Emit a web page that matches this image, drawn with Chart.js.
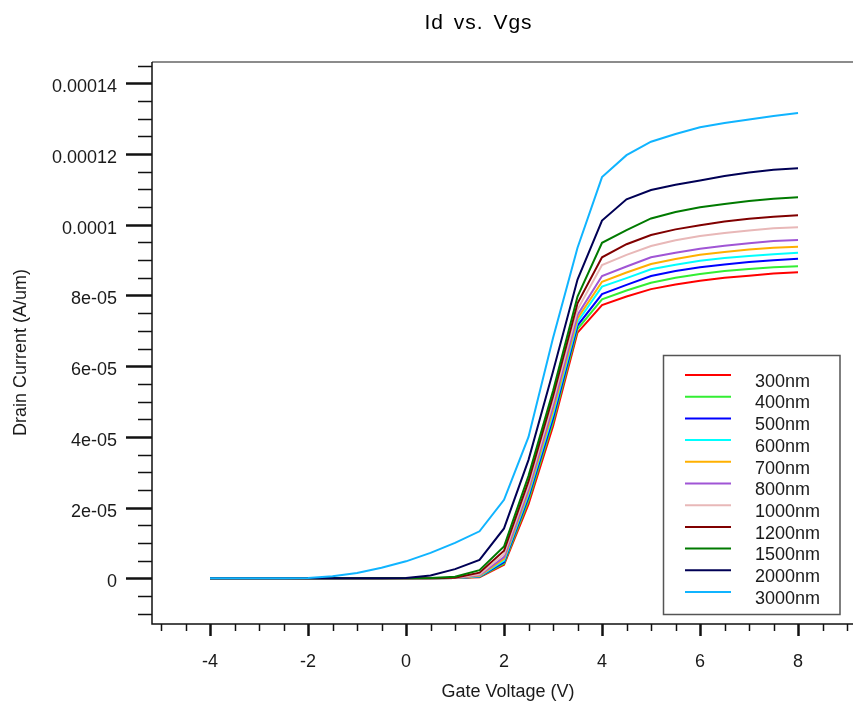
<!DOCTYPE html>
<html><head><meta charset="utf-8">
<script src="https://cdn.jsdelivr.net/npm/chart.js@4.4.1/dist/chart.umd.min.js"></script>
<style>html,body{margin:0;padding:0;background:#fff;overflow:hidden}</style>
</head><body>
<canvas id="c" width="853" height="705"></canvas>
<script>
// ---- data (Gate voltage in V, drain current in A/um) ----
const vgs = [-4,-3.5,-3,-2.5,-2,-1.5,-1,-0.5,0,0.5,1,1.5,2,2.5,3,3.5,4,4.5,5,5.5,6,6.5,7,7.5,8];
const seriesLabels = ['300nm','400nm','500nm','600nm','700nm','800nm','1000nm','1200nm','1500nm','2000nm','3000nm'];
const seriesColors = ['#ff0000','#33ee33','#0000ff','#00ffff','#ffb000','#a055d5','#e8b8b8','#800000','#007a00','#000055','#10b4ff'];
const id300  = [0,0,0,0,0,0,0,0,0,0, 5e-8, 3e-7, 3.8e-6, 2.1e-5, 4.3e-5, 6.95e-5, 7.73e-5, 7.97e-5, 8.18e-5, 8.31e-5, 8.42e-5, 8.5e-5, 8.56e-5, 8.62e-5, 8.66e-5];
const id400  = [0,0,0,0,0,0,0,0,0,0, 5e-8, 4e-7, 4.2e-6, 2.2e-5, 4.42e-5, 7.05e-5, 7.89e-5, 8.14e-5, 8.36e-5, 8.5e-5, 8.61e-5, 8.69e-5, 8.75e-5, 8.8e-5, 8.83e-5];
const id500  = [0,0,0,0,0,0,0,0,0,0, 6e-8, 5e-7, 4.6e-6, 2.3e-5, 4.53e-5, 7.15e-5, 8.04e-5, 8.3e-5, 8.55e-5, 8.69e-5, 8.8e-5, 8.88e-5, 8.95e-5, 9.0e-5, 9.04e-5];
const id600  = [0,0,0,0,0,0,0,0,0,0, 7e-8, 6e-7, 5.0e-6, 2.38e-5, 4.64e-5, 7.25e-5, 8.25e-5, 8.49e-5, 8.74e-5, 8.87e-5, 8.98e-5, 9.06e-5, 9.12e-5, 9.17e-5, 9.21e-5];
const id700  = [0,0,0,0,0,0,0,0,0,0, 8e-8, 7e-7, 5.5e-6, 2.45e-5, 4.75e-5, 7.35e-5, 8.39e-5, 8.65e-5, 8.89e-5, 9.03e-5, 9.15e-5, 9.23e-5, 9.3e-5, 9.35e-5, 9.38e-5];
const id800  = [0,0,0,0,0,0,0,0,0,0, 1e-7, 9e-7, 6.0e-6, 2.52e-5, 4.86e-5, 7.45e-5, 8.55e-5, 8.82e-5, 9.08e-5, 9.21e-5, 9.32e-5, 9.41e-5, 9.48e-5, 9.54e-5, 9.57e-5];
const id1000 = [0,0,0,0,0,0,0,0,0,0, 1.2e-7, 1.1e-6, 6.8e-6, 2.62e-5, 5.0e-5, 7.6e-5, 8.86e-5, 9.15e-5, 9.4e-5, 9.56e-5, 9.68e-5, 9.77e-5, 9.84e-5, 9.9e-5, 9.93e-5];
const id1200 = [0,0,0,0,0,0,0,0,0,0, 1.5e-7, 1.6e-6, 7.8e-6, 2.75e-5, 5.15e-5, 7.78e-5, 9.08e-5, 9.45e-5, 9.71e-5, 9.87e-5, 9.99e-5, 1.009e-4, 1.017e-4, 1.023e-4, 1.027e-4];
const id1500 = [0,0,0,0,0,0,0,0,0, 5e-8, 4.5e-7, 2.3e-6, 9.0e-6, 2.9e-5, 5.3e-5, 7.97e-5, 9.49e-5, 9.85e-5, 1.018e-4, 1.036e-4, 1.0496e-4, 1.059e-4, 1.067e-4, 1.074e-4, 1.078e-4];
const id2000 = [0,0,0,0,0,0,0,0, 1e-7, 8e-7, 2.6e-6, 5.2e-6, 1.41e-5, 3.35e-5, 5.85e-5, 8.45e-5, 1.012e-4, 1.072e-4, 1.0985e-4, 1.113e-4, 1.125e-4, 1.138e-4, 1.148e-4, 1.156e-4, 1.16e-4];
const id3000 = [0,0,0,0, 1e-7, 6e-7, 1.5e-6, 3.0e-6, 4.8e-6, 7.2e-6, 1.0e-5, 1.33e-5, 2.22e-5, 4.0e-5, 6.8e-5, 9.35e-5, 1.135e-4, 1.197e-4, 1.235e-4, 1.257e-4, 1.276e-4, 1.288e-4, 1.298e-4, 1.308e-4, 1.316e-4];
const seriesValues = [id300,id400,id500,id600,id700,id800,id1000,id1200,id1500,id2000,id3000];

const xTickValues = [-4,-2,0,2,4,6,8];
const xTickLabels = ['-4','-2','0','2','4','6','8'];
const yTickValues = [0,2e-5,4e-5,6e-5,8e-5,1e-4,1.2e-4,1.4e-4];
const yTickLabels = ['0','2e-05','4e-05','6e-05','8e-05','0.0001','0.00012','0.00014'];

const titleText = 'Id vs. Vgs';
const xTitle = 'Gate Voltage (V)';
const yTitle = 'Drain Current (A/um)';

// ---- styling ----
const FONT = '"Liberation Sans", Arial, sans-serif';
const TXT = '#1a1a1a';

const datasets = seriesValues.map((vals, i) => ({
  label: seriesLabels[i],
  data: vgs.map((x, j) => ({x: x, y: vals[j]})),
  borderColor: seriesColors[i],
  backgroundColor: seriesColors[i],
  borderWidth: 2,
  pointRadius: 0,
  tension: 0,
  fill: false,
  order: seriesValues.length - i
}));

const decor = {
  id: 'decor',
  afterDatasetsDraw(chart) {
    const ctx = chart.ctx, a = chart.chartArea;
    const xs = chart.scales.x, ys = chart.scales.y;
    ctx.save();
    // frame
    ctx.lineCap = 'butt';
    ctx.strokeStyle = '#666';
    ctx.lineWidth = 1.5;
    ctx.beginPath(); ctx.moveTo(a.left, a.top); ctx.lineTo(a.right, a.top); ctx.stroke();
    ctx.strokeStyle = '#111';
    ctx.beginPath(); ctx.moveTo(a.left, a.top); ctx.lineTo(a.left, a.bottom); ctx.lineTo(a.right, a.bottom); ctx.stroke();
    // y ticks
    for (let k = -2; k <= 29; k++) {
      const v = k * 5e-6;
      const py = Math.round(ys.getPixelForValue(v)) + 0.5;
      if (py < a.top + 1 || py > a.bottom - 1) continue;
      const major = (k % 4 === 0);
      ctx.lineWidth = major ? 2.5 : 1.5;
      ctx.beginPath(); ctx.moveTo(a.left - (major ? 26 : 14), py); ctx.lineTo(a.left, py); ctx.stroke();
    }
    // x ticks
    for (let k = -10; k <= 18; k++) {
      const v = k * 0.5;
      const px = Math.round(xs.getPixelForValue(v)) + 0.5;
      if (px < a.left + 1 || px > a.right) continue;
      const major = (k % 4 === 0);
      ctx.lineWidth = major ? 2.5 : 1.5;
      ctx.beginPath(); ctx.moveTo(px, a.bottom); ctx.lineTo(px, a.bottom + (major ? 12 : 7)); ctx.stroke();
    }
    // legend
    const lx = 663.5, ly = 355.5, lw = 176.5, lh = 259;
    ctx.fillStyle = '#fff';
    ctx.fillRect(lx, ly, lw, lh);
    ctx.strokeStyle = '#555';
    ctx.lineWidth = 1.5;
    ctx.strokeRect(lx, ly, lw, lh);
    ctx.font = '18px ' + FONT;
    ctx.textAlign = 'left';
    ctx.textBaseline = 'alphabetic';
    for (let i = 0; i < seriesLabels.length; i++) {
      const yy = 375 + i * 21.7;
      ctx.strokeStyle = seriesColors[i];
      ctx.lineWidth = 2;
      ctx.beginPath(); ctx.moveTo(685, yy); ctx.lineTo(731, yy); ctx.stroke();
      ctx.fillStyle = TXT;
      ctx.fillText(seriesLabels[i], 755, yy + 11.7);
    }
    ctx.restore();
  },
  afterDraw(chart) {
    const ctx = chart.ctx;
    ctx.save();
    ctx.fillStyle = '#000';
    ctx.textAlign = 'center';
    ctx.textBaseline = 'alphabetic';
    ctx.font = '21px ' + FONT;
    try { ctx.letterSpacing = '1px'; ctx.wordSpacing = '3px'; } catch (e) {}
    ctx.fillText(titleText, 478.5, 28.5);
    try { ctx.letterSpacing = '0px'; ctx.wordSpacing = '0px'; } catch (e) {}
    ctx.fillStyle = TXT;
    ctx.font = '18px ' + FONT;
    ctx.fillText(xTitle, 508, 696.5);
    ctx.translate(25.5, 352.5);
    ctx.rotate(-Math.PI / 2);
    ctx.fillText(yTitle, 0, 0);
    ctx.restore();
  }
};

new Chart(document.getElementById('c'), {
  type: 'line',
  data: { datasets },
  options: {
    responsive: false,
    animation: false,
    devicePixelRatio: 1,
    layout: { padding: { top: 62, right: 0, bottom: 0, left: 0 } },
    plugins: { legend: { display: false }, title: { display: false }, tooltip: { enabled: false } },
    scales: {
      x: {
        type: 'linear',
        min: -5.184, max: 9.122,
        grid: { display: false, drawTicks: false },
        border: { display: false },
        afterBuildTicks: s => { s.ticks = xTickValues.map(v => ({value: v})); },
        afterFit: s => { s.height = 81; },
        ticks: {
          padding: 27,
          maxRotation: 0,
          autoSkip: false,
          color: TXT,
          font: { size: 18, family: FONT },
          callback: v => { const i = xTickValues.indexOf(v); return i >= 0 ? xTickLabels[i] : ''; }
        }
      },
      y: {
        type: 'linear',
        min: -1.2928e-5, max: 1.4605e-4,
        grid: { display: false, drawTicks: false },
        border: { display: false },
        afterBuildTicks: s => { s.ticks = yTickValues.map(v => ({value: v})); },
        afterFit: s => { s.width = 152; },
        ticks: {
          padding: 35,
          labelOffset: 4,
          autoSkip: false,
          color: TXT,
          font: { size: 18, family: FONT },
          callback: v => { const i = yTickValues.findIndex(t => Math.abs(t - v) < 1e-12); return i >= 0 ? yTickLabels[i] : ''; }
        }
      }
    }
  },
  plugins: [decor]
});
</script>
</body></html>
